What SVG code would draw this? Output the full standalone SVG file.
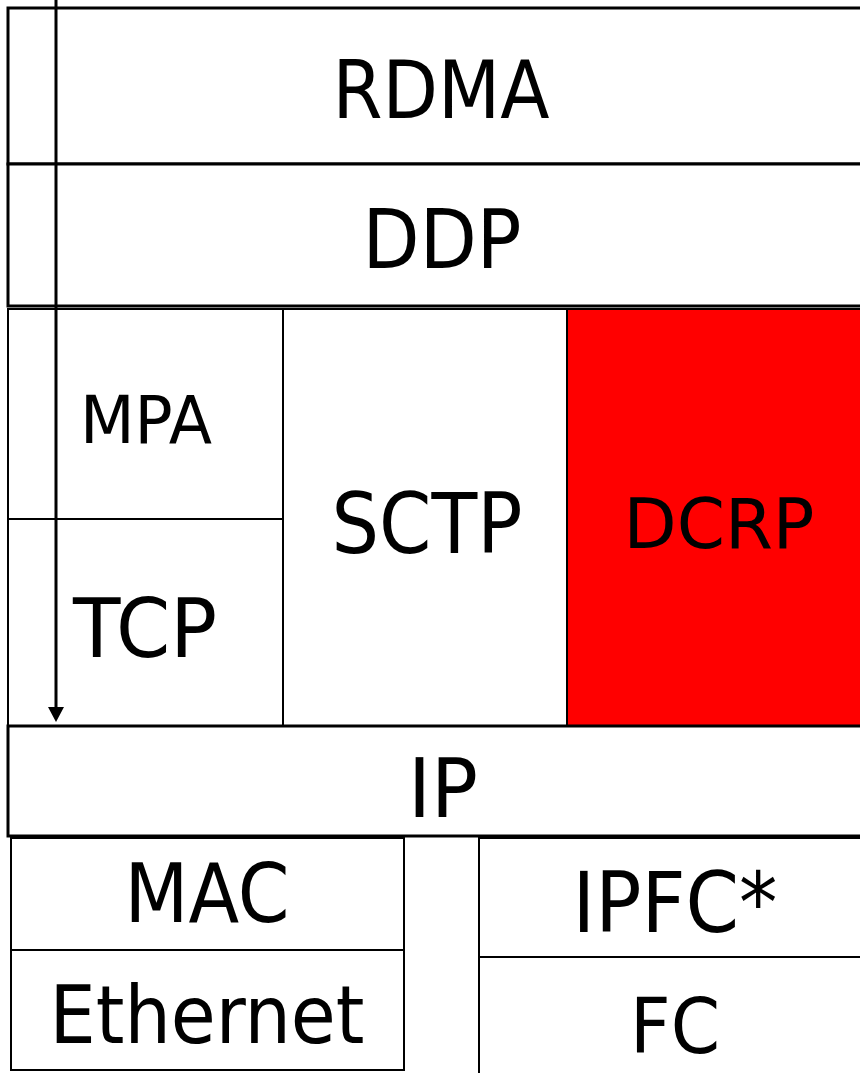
<svg xmlns="http://www.w3.org/2000/svg" width="860" height="1073" viewBox="0 0 860 1073">
<style>
.b{fill:#fff;stroke:#000;stroke-width:3}
.i{fill:#fff;stroke:#000;stroke-width:2}
.r{fill:#ff0000;stroke:#000;stroke-width:2}
text{font-family:"DejaVu Sans","Liberation Sans",sans-serif;fill:#000;text-anchor:middle}
</style>
<defs>
<marker id="ah" markerWidth="15" markerHeight="16" refX="0" refY="8" orient="auto" markerUnits="userSpaceOnUse" viewBox="0 0 15 16">
<path d="M0,0 L15,8 L0,16 Z" fill="#000"/>
</marker>
</defs>
<rect width="860" height="1073" fill="#fff"/>
<g id="rdma"><rect class="b" x="8" y="8" width="900" height="156"/><text x="441" y="118" font-size="81" textLength="217" lengthAdjust="spacingAndGlyphs">RDMA</text></g>
<g id="ddp"><rect class="b" x="8" y="164" width="900" height="142"/><text x="442" y="268" font-size="82" textLength="159" lengthAdjust="spacingAndGlyphs">DDP</text></g>
<g id="mpa"><rect class="i" x="8" y="309" width="275" height="210"/><text x="146" y="443" font-size="65" textLength="132" lengthAdjust="spacingAndGlyphs">MPA</text></g>
<g id="tcp"><rect class="i" x="8" y="519" width="275" height="207"/><text x="145" y="657" font-size="82" textLength="144" lengthAdjust="spacingAndGlyphs">TCP</text></g>
<g id="sctp"><rect class="i" x="283" y="309" width="284" height="417"/><text x="427" y="553" font-size="84" textLength="191" lengthAdjust="spacingAndGlyphs">SCTP</text></g>
<g id="dcrp"><rect class="r" x="567" y="309" width="400" height="417"/><text x="719" y="548" font-size="70" textLength="191" lengthAdjust="spacingAndGlyphs">DCRP</text></g>
<g id="ip"><rect class="b" x="8" y="726" width="900" height="110"/><text x="443" y="817" font-size="82" textLength="70" lengthAdjust="spacingAndGlyphs">IP</text></g>
<g id="mac"><rect class="i" x="11" y="838" width="393" height="112"/><text x="207" y="922" font-size="82" textLength="165" lengthAdjust="spacingAndGlyphs">MAC</text></g>
<g id="ethernet"><rect class="i" x="11" y="950" width="393" height="120"/><text x="207" y="1043" font-size="80" textLength="315" lengthAdjust="spacingAndGlyphs">Ethernet</text></g>
<g id="ipfc"><rect class="i" x="479" y="838" width="500" height="119"/><text x="675" y="932" font-size="84" textLength="205" lengthAdjust="spacingAndGlyphs">IPFC*</text></g>
<g id="fc"><rect class="i" x="479" y="957" width="500" height="200"/><text x="675" y="1053" font-size="77" textLength="90" lengthAdjust="spacingAndGlyphs">FC</text></g>
<g id="connectors"><line x1="56" y1="0" x2="56" y2="707" stroke="#000" stroke-width="3" marker-end="url(#ah)"/></g>
</svg>
